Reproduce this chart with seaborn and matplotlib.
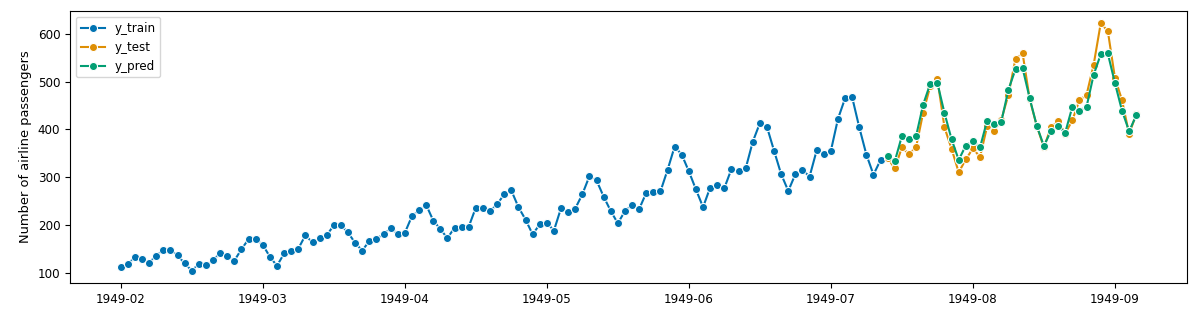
import numpy as np
import matplotlib
matplotlib.use("Agg")
import matplotlib.pyplot as plt
import seaborn as sns

y_train = [
    112, 118, 132, 129, 121, 135, 148, 148, 136, 119, 104, 118,
    115, 126, 141, 135, 125, 149, 170, 170, 158, 133, 114, 140,
    145, 150, 178, 163, 172, 178, 199, 199, 184, 162, 146, 166,
    171, 180, 193, 181, 183, 218, 230, 242, 209, 191, 172, 194,
    196, 196, 236, 235, 229, 243, 264, 272, 237, 211, 180, 201,
    204, 188, 235, 227, 234, 264, 302, 293, 259, 229, 203, 229,
    242, 233, 267, 269, 270, 315, 364, 347, 312, 274, 237, 278,
    284, 277, 317, 313, 318, 374, 413, 405, 355, 306, 271, 306,
    315, 301, 356, 348, 355, 422, 465, 467, 404, 347, 305, 336,
]
y_test = [
    340, 318, 362, 348, 363, 435, 491, 505, 404, 359, 310, 337,
    360, 342, 406, 396, 420, 472, 548, 559, 463, 407, 362, 405,
    417, 391, 419, 461, 472, 535, 622, 606, 508, 461, 390, 432,
]
y_pred = [
    344, 333, 386, 379, 386, 452, 496, 497, 434, 379, 336, 366,
    376, 362, 418, 411, 416, 483, 526, 528, 465, 407, 365, 397,
    407, 393, 447, 439, 447, 514, 557, 559, 497, 439, 396, 429,
]
tick_labels = ["1949-02", "1949-03", "1949-04", "1949-05",
               "1949-06", "1949-07", "1949-08", "1949-09"]
tick_step = 20

x_train = np.arange(len(y_train))
x_test = np.arange(len(y_train), len(y_train) + len(y_test))
x_pred = np.arange(len(y_train), len(y_train) + len(y_pred))

colors = sns.color_palette("colorblind")

fig, ax = plt.subplots(figsize=(11.99, 3.13), dpi=100)
fig.subplots_adjust(left=70 / 1199, right=1187 / 1199, top=1 - 11 / 313, bottom=1 - 283 / 313)

for xs, ys, c, lab in [(x_train, y_train, colors[0], "y_train"),
                       (x_test, y_test, colors[1], "y_test"),
                       (x_pred, y_pred, colors[2], "y_pred")]:
    sns.lineplot(x=xs, y=ys, ax=ax, color=c, label=lab, marker="o",
                 markersize=5.8, linewidth=1.5)

ax.set_xticks(np.arange(len(tick_labels)) * tick_step, tick_labels)
ax.tick_params(labelsize=8.6)
ax.set_ylabel("Number of airline passengers", fontsize=9.4)
ax.legend(loc="upper left", fontsize=8.6)

fig.savefig("out.png", dpi=100)
